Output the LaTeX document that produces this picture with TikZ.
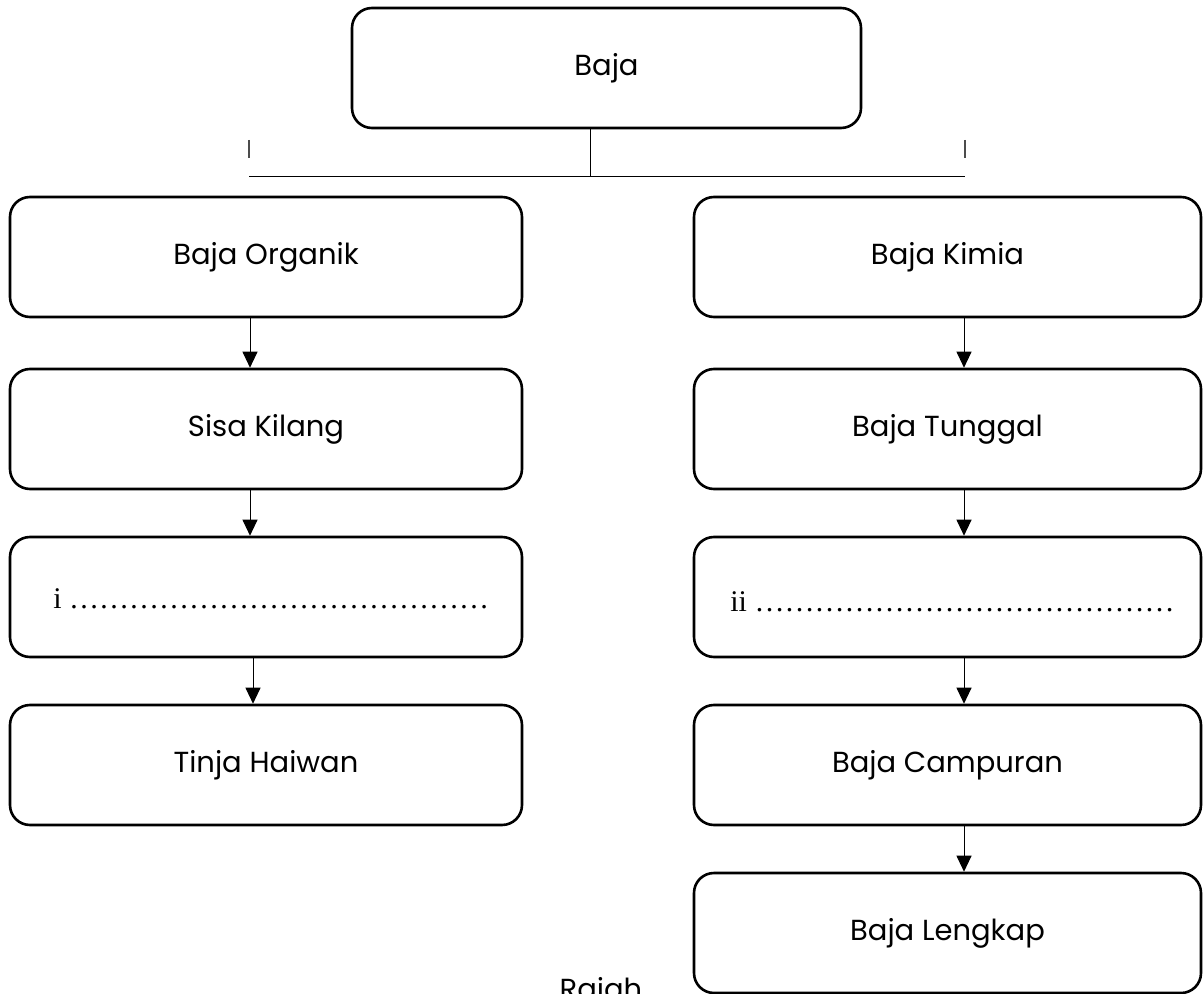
\documentclass[tikz,border=0pt]{standalone}
\usepackage{fontspec}
\setmainfont{Poppins}
\newfontfamily\serfont{Liberation Serif}
\usetikzlibrary{arrows.meta,calc}
\begin{document}
\begin{tikzpicture}[x=0.5pt,y=-0.5pt,
  box/.style={draw=black,line width=1.3pt,rounded corners=10pt,minimum height=60pt,inner sep=0pt,font=\fontsize{14.5}{17}\selectfont},
  lbox/.style={box,minimum width=256pt},
  rbox/.style={box,minimum width=253.5pt},
  arr/.style={line width=0.5pt,-{Triangle[width=7.5pt,length=8pt]}},
  conn/.style={line width=0.5pt},
  tick/.style={line width=0.6pt,draw=black!70},
  dots/.style={anchor=base west,inner sep=0pt,font=\serfont\fontsize{15}{18}\selectfont}]
\useasboundingbox (0,0) rectangle (1204,994);
\node[box,minimum width=254.5pt] (baja) at (606.5,68) {Baja};
\node[lbox] (o1) at (266,257) {Baja Organik};
\node[lbox] (o2) at (266,429) {Sisa Kilang};
\node[lbox] (o3) at (266,597) {};
\node[lbox] (o4) at (266,765) {Tinja Haiwan};
\node[rbox] (k1) at (947.5,257) {Baja Kimia};
\node[rbox] (k2) at (947.5,429) {Baja Tunggal};
\node[rbox] (k3) at (947.5,597) {};
\node[rbox] (k4) at (947.5,765) {Baja Campuran};
\node[rbox] (k5) at (947.5,933) {Baja Lengkap};
\node[dots] (t1) at (53,608) {i ……………………………………};
\node[dots] (t2) at (730,611) {ii ……………………………………};
\node[anchor=base,inner sep=0pt,font=\fontsize{14.5}{17}\selectfont] (rajah) at (601,999) {Rajah};
\coordinate (jn) at (590,177);
\coordinate (hl) at (249,177);
\coordinate (hr) at (965,177);
\coordinate (tl1) at (249,140);
\coordinate (tl2) at (249,158);
\coordinate (tr1) at (965,140);
\coordinate (tr2) at (965,158);
\draw[conn] ([xshift=-8.25pt]baja.south) -- (jn);
\draw[conn] (hl) -- (hr);
\draw[tick] (tl1) -- (tl2);
\draw[tick] (tr1) -- (tr2);
\draw[arr] ([xshift=-8pt]o1.south) -- ([xshift=-8pt]o2.north);
\draw[arr] ([xshift=-8pt]o2.south) -- ([xshift=-8pt]o3.north);
\draw[arr] ([xshift=-6.5pt]o3.south) -- ([xshift=-6.5pt]o4.north);
\draw[arr] ([xshift=8.25pt]k1.south) -- ([xshift=8.25pt]k2.north);
\draw[arr] ([xshift=8.25pt]k2.south) -- ([xshift=8.25pt]k3.north);
\draw[arr] ([xshift=8.25pt]k3.south) -- ([xshift=8.25pt]k4.north);
\draw[arr] ([xshift=8.25pt]k4.south) -- ([xshift=8.25pt]k5.north);
\end{tikzpicture}
\end{document}
